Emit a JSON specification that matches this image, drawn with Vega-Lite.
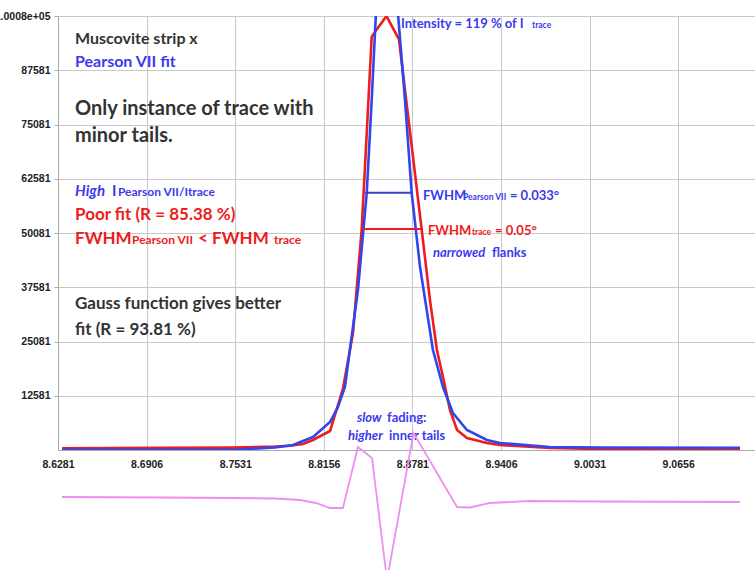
{
  "$schema": "https://vega.github.io/schema/vega-lite/v6.json",
  "width": 697,
  "height": 434,
  "autosize": {"type": "none"},
  "padding": {"left": 58, "top": 16, "right": 0, "bottom": 120},
  "background": "white",
  "config": {"view": {"stroke": null}},
  "datasets": {
    "curves": [
      {"series": "trace", "x": 8.6309, "y": 473},
      {"series": "trace", "x": 8.7001, "y": 565},
      {"series": "trace", "x": 8.7508, "y": 634},
      {"series": "trace", "x": 8.7812, "y": 887},
      {"series": "trace", "x": 8.7918, "y": 1072},
      {"series": "trace", "x": 8.8009, "y": 1463},
      {"series": "trace", "x": 8.8080, "y": 2385},
      {"series": "trace", "x": 8.8200, "y": 4459},
      {"series": "trace", "x": 8.8291, "y": 14135},
      {"series": "trace", "x": 8.8362, "y": 27038},
      {"series": "trace", "x": 8.8423, "y": 50769},
      {"series": "trace", "x": 8.8459, "y": 73118},
      {"series": "trace", "x": 8.8494, "y": 95236},
      {"series": "trace", "x": 8.8517, "y": 96388},
      {"series": "trace", "x": 8.8598, "y": 100075},
      {"series": "trace", "x": 8.8686, "y": 94775},
      {"series": "trace", "x": 8.8847, "y": 50769},
      {"series": "trace", "x": 8.8905, "y": 34641},
      {"series": "trace", "x": 8.8954, "y": 23121},
      {"series": "trace", "x": 8.8997, "y": 16900},
      {"series": "trace", "x": 8.9046, "y": 9297},
      {"series": "trace", "x": 8.9096, "y": 4689},
      {"series": "trace", "x": 8.9166, "y": 2846},
      {"series": "trace", "x": 8.9307, "y": 1693},
      {"series": "trace", "x": 8.9399, "y": 1233},
      {"series": "trace", "x": 8.9752, "y": 542},
      {"series": "trace", "x": 9.0104, "y": 311},
      {"series": "trace", "x": 9.1092, "y": 196},
      {"series": "fit", "x": 8.6309, "y": 100},
      {"series": "fit", "x": 8.7001, "y": 100},
      {"series": "fit", "x": 8.7515, "y": 150},
      {"series": "fit", "x": 8.7812, "y": 657},
      {"series": "fit", "x": 8.7939, "y": 1233},
      {"series": "fit", "x": 8.8080, "y": 3076},
      {"series": "fit", "x": 8.8200, "y": 6532},
      {"series": "fit", "x": 8.8256, "y": 9988},
      {"series": "fit", "x": 8.8305, "y": 14596},
      {"series": "fit", "x": 8.8397, "y": 36945},
      {"series": "fit", "x": 8.8459, "y": 59294},
      {"series": "fit", "x": 8.8494, "y": 80721},
      {"series": "fit", "x": 8.8524, "y": 100766},
      {"series": "fit", "x": 8.8602, "y": 118046},
      {"series": "fit", "x": 8.8679, "y": 100766},
      {"series": "fit", "x": 8.8729, "y": 80721},
      {"series": "fit", "x": 8.8776, "y": 59294},
      {"series": "fit", "x": 8.8835, "y": 42244},
      {"series": "fit", "x": 8.8926, "y": 23121},
      {"series": "fit", "x": 8.8997, "y": 14596},
      {"series": "fit", "x": 8.9067, "y": 8606},
      {"series": "fit", "x": 8.9166, "y": 4689},
      {"series": "fit", "x": 8.9307, "y": 2385},
      {"series": "fit", "x": 8.9399, "y": 1694},
      {"series": "fit", "x": 8.9752, "y": 772},
      {"series": "fit", "x": 9.0104, "y": 657},
      {"series": "fit", "x": 9.1092, "y": 611}
    ],
    "residual": [
      {"x": 8.6309, "r": 691},
      {"x": 8.7001, "r": 576},
      {"x": 8.7508, "r": 461},
      {"x": 8.7812, "r": 346},
      {"x": 8.7988, "r": 0},
      {"x": 8.8101, "r": -691},
      {"x": 8.8200, "r": -1843},
      {"x": 8.8291, "r": -1843},
      {"x": 8.8397, "r": 12211},
      {"x": 8.8496, "r": 9677},
      {"x": 8.8602, "r": -18432},
      {"x": 8.8789, "r": 15437},
      {"x": 8.9096, "r": -1613},
      {"x": 8.9187, "r": -1728},
      {"x": 8.9328, "r": -691},
      {"x": 8.9611, "r": -230},
      {"x": 9.0104, "r": -346},
      {"x": 9.1092, "r": -461}
    ],
    "fwhm": [
      {"series": "fit", "x": 8.8447, "x2": 8.8776, "y": 59362},
      {"series": "trace", "x": 8.8423, "x2": 8.8856, "y": 50999}
    ]
  },
  "layer": [
    {
      "encoding": {
        "x": {
          "field": "x", "type": "quantitative",
          "scale": {"domain": [8.6281, 9.1198], "nice": false, "zero": false},
          "axis": {
            "title": null,
            "values": [8.6281, 8.6906, 8.7531, 8.8156, 8.8781, 8.9406, 9.0031, 9.0656],
            "format": ".4f",
            "labelFont": "Liberation Sans", "labelFontWeight": "bold", "labelFontSize": 10.5,
            "labelColor": "#222222", "labelPadding": 9,
            "ticks": false, "grid": true, "gridColor": "#c8c8c8", "gridWidth": 1,
            "domainColor": "#aaaaaa", "labelFlush": false
          }
        },
        "y": {
          "field": "y", "type": "quantitative",
          "scale": {"domain": [81, 100081], "nice": false, "zero": false},
          "axis": {
            "title": null,
            "values": [12581, 25081, 37581, 50081, 62581, 75081, 87581, 100081],
            "format": "d",
            "labelExpr": "datum.value == 100081 ? '1.0008e+05' : datum.label",
            "labelFont": "Liberation Sans", "labelFontWeight": "bold", "labelFontSize": 10.5,
            "labelColor": "#222222", "labelPadding": 4,
            "ticks": true, "tickSize": 4, "tickColor": "#aaaaaa",
            "grid": true, "gridColor": "#c8c8c8", "gridWidth": 1,
            "domainColor": "#aaaaaa"
          }
        }
      },
      "layer": [
        {
          "data": {"name": "curves"},
          "transform": [{"filter": "datum.series == 'trace'"}],
          "mark": {"type": "line", "color": "#ee1c1c", "strokeWidth": 2.6, "clip": true}
        },
        {
          "data": {"name": "curves"},
          "transform": [{"filter": "datum.series == 'fit'"}],
          "mark": {"type": "line", "color": "#2f45ee", "strokeWidth": 2.6, "clip": true}
        },
        {
          "data": {"name": "fwhm"},
          "transform": [{"filter": "datum.series == 'fit'"}],
          "mark": {"type": "rule", "color": "#3a3fd0", "strokeWidth": 2},
          "encoding": {"x2": {"field": "x2"}}
        },
        {
          "data": {"name": "fwhm"},
          "transform": [{"filter": "datum.series == 'trace'"}],
          "mark": {"type": "rule", "color": "#ee1c1c", "strokeWidth": 2},
          "encoding": {"x2": {"field": "x2"}}
        },
        {
          "data": {"values": [{"x": 8.6401, "y": 93623, "t": "Muscovite strip x"}]},
          "mark": {"type": "text", "align": "left", "baseline": "alphabetic", "font": "Lato", "fontWeight": "bold", "fontSize": 16, "color": "#333333"},
          "encoding": {"text": {"field": "t"}}
        },
        {
          "data": {"values": [{"x": 8.6401, "y": 88324, "t": "Pearson VII fit"}]},
          "mark": {"type": "text", "align": "left", "baseline": "alphabetic", "font": "Lato", "fontWeight": "bold", "fontSize": 16, "color": "#3a3aee"},
          "encoding": {"text": {"field": "t"}}
        },
        {
          "data": {"values": [
            {"x": 8.6401, "y": 77265, "t": "Only instance of trace with"},
            {"x": 8.6401, "y": 71114, "t": "minor tails."}
          ]},
          "mark": {"type": "text", "align": "left", "baseline": "alphabetic", "font": "Lato", "fontWeight": "bold", "fontSize": 20, "color": "#333333"},
          "encoding": {"text": {"field": "t"}}
        },
        {
          "data": {"values": [{"x": 8.6401, "y": 58603, "t": "High"}]},
          "mark": {"type": "text", "align": "left", "baseline": "alphabetic", "font": "Lato", "fontWeight": "bold", "fontStyle": "italic", "fontSize": 15, "color": "#3a3aee"},
          "encoding": {"text": {"field": "t"}}
        },
        {
          "data": {"values": [{"x": 8.6662, "y": 58603, "t": "I"}]},
          "mark": {"type": "text", "align": "left", "baseline": "alphabetic", "font": "Lato", "fontWeight": "bold", "fontSize": 15, "color": "#3a3aee"},
          "encoding": {"text": {"field": "t"}}
        },
        {
          "data": {"values": [{"x": 8.6704, "y": 58603, "t": "Pearson VII/Itrace"}]},
          "mark": {"type": "text", "align": "left", "baseline": "alphabetic", "font": "Lato", "fontWeight": "bold", "fontSize": 12, "color": "#3a3aee"},
          "encoding": {"text": {"field": "t"}}
        },
        {
          "data": {"values": [
            {"x": 8.6401, "y": 53073, "t": "Poor fit (R = 85.38 %)"},
            {"x": 8.6401, "y": 47543, "t": "FWHM"},
            {"x": 8.7269, "y": 47543, "t": "< FWHM"}
          ]},
          "mark": {"type": "text", "align": "left", "baseline": "alphabetic", "font": "Lato", "fontWeight": "bold", "fontSize": 17, "color": "#ee1c1c"},
          "encoding": {"text": {"field": "t"}}
        },
        {
          "data": {"values": [
            {"x": 8.6803, "y": 47543, "t": "Pearson VII"},
            {"x": 8.7805, "y": 47543, "t": "trace"}
          ]},
          "mark": {"type": "text", "align": "left", "baseline": "alphabetic", "font": "Lato", "fontWeight": "bold", "fontSize": 12, "color": "#ee1c1c"},
          "encoding": {"text": {"field": "t"}}
        },
        {
          "data": {"values": [
            {"x": 8.6401, "y": 32567, "t": "Gauss function gives better"},
            {"x": 8.6401, "y": 26577, "t": "fit (R = 93.81 %)"}
          ]},
          "mark": {"type": "text", "align": "left", "baseline": "alphabetic", "font": "Lato", "fontWeight": "bold", "fontSize": 17, "color": "#333333"},
          "encoding": {"text": {"field": "t"}}
        },
        {
          "data": {"values": [
            {"x": 8.8700, "y": 97425, "t": "Intensity = 119 % of I"},
            {"x": 8.8856, "y": 57681, "t": "FWHM"},
            {"x": 8.9469, "y": 57681, "t": "= 0.033°"},
            {"x": 8.9342, "y": 44548, "t": "flanks"},
            {"x": 8.8602, "y": 6532, "t": "fading:"},
            {"x": 8.8616, "y": 2385, "t": "inner tails"}
          ]},
          "mark": {"type": "text", "align": "left", "baseline": "alphabetic", "font": "Lato", "fontWeight": "bold", "fontSize": 13, "color": "#3a3aee"},
          "encoding": {"text": {"field": "t"}}
        },
        {
          "data": {"values": [
            {"x": 8.8926, "y": 44548, "t": "narrowed"},
            {"x": 8.8390, "y": 6532, "t": "slow"},
            {"x": 8.8327, "y": 2385, "t": "higher"}
          ]},
          "mark": {"type": "text", "align": "left", "baseline": "alphabetic", "font": "Lato", "fontWeight": "bold", "fontStyle": "italic", "fontSize": 13, "color": "#3a3aee"},
          "encoding": {"text": {"field": "t"}}
        },
        {
          "data": {"values": [
            {"x": 8.9625, "y": 97425, "t": "trace"},
            {"x": 8.9138, "y": 57681, "t": "Pearson VII"}
          ]},
          "mark": {"type": "text", "align": "left", "baseline": "alphabetic", "font": "Lato", "fontWeight": "bold", "fontSize": 8.5, "color": "#3a3aee"},
          "encoding": {"text": {"field": "t"}}
        },
        {
          "data": {"values": [
            {"x": 8.8891, "y": 49617, "t": "FWHM"},
            {"x": 8.9364, "y": 49617, "t": "= 0.05°"}
          ]},
          "mark": {"type": "text", "align": "left", "baseline": "alphabetic", "font": "Lato", "fontWeight": "bold", "fontSize": 13, "color": "#ee1c1c"},
          "encoding": {"text": {"field": "t"}}
        },
        {
          "data": {"values": [{"x": 8.9201, "y": 49617, "t": "trace"}]},
          "mark": {"type": "text", "align": "left", "baseline": "alphabetic", "font": "Lato", "fontWeight": "bold", "fontSize": 8.5, "color": "#ee1c1c"},
          "encoding": {"text": {"field": "t"}}
        }
      ]
    },
    {
      "data": {"name": "residual"},
      "mark": {"type": "line", "color": "#ee8ef0", "strokeWidth": 1.8},
      "encoding": {
        "x": {"field": "x", "type": "quantitative"},
        "y": {"field": "r", "type": "quantitative", "scale": {"domain": [11520, 111520], "nice": false, "zero": false}, "axis": null}
      }
    }
  ],
  "resolve": {"scale": {"y": "independent"}}
}
